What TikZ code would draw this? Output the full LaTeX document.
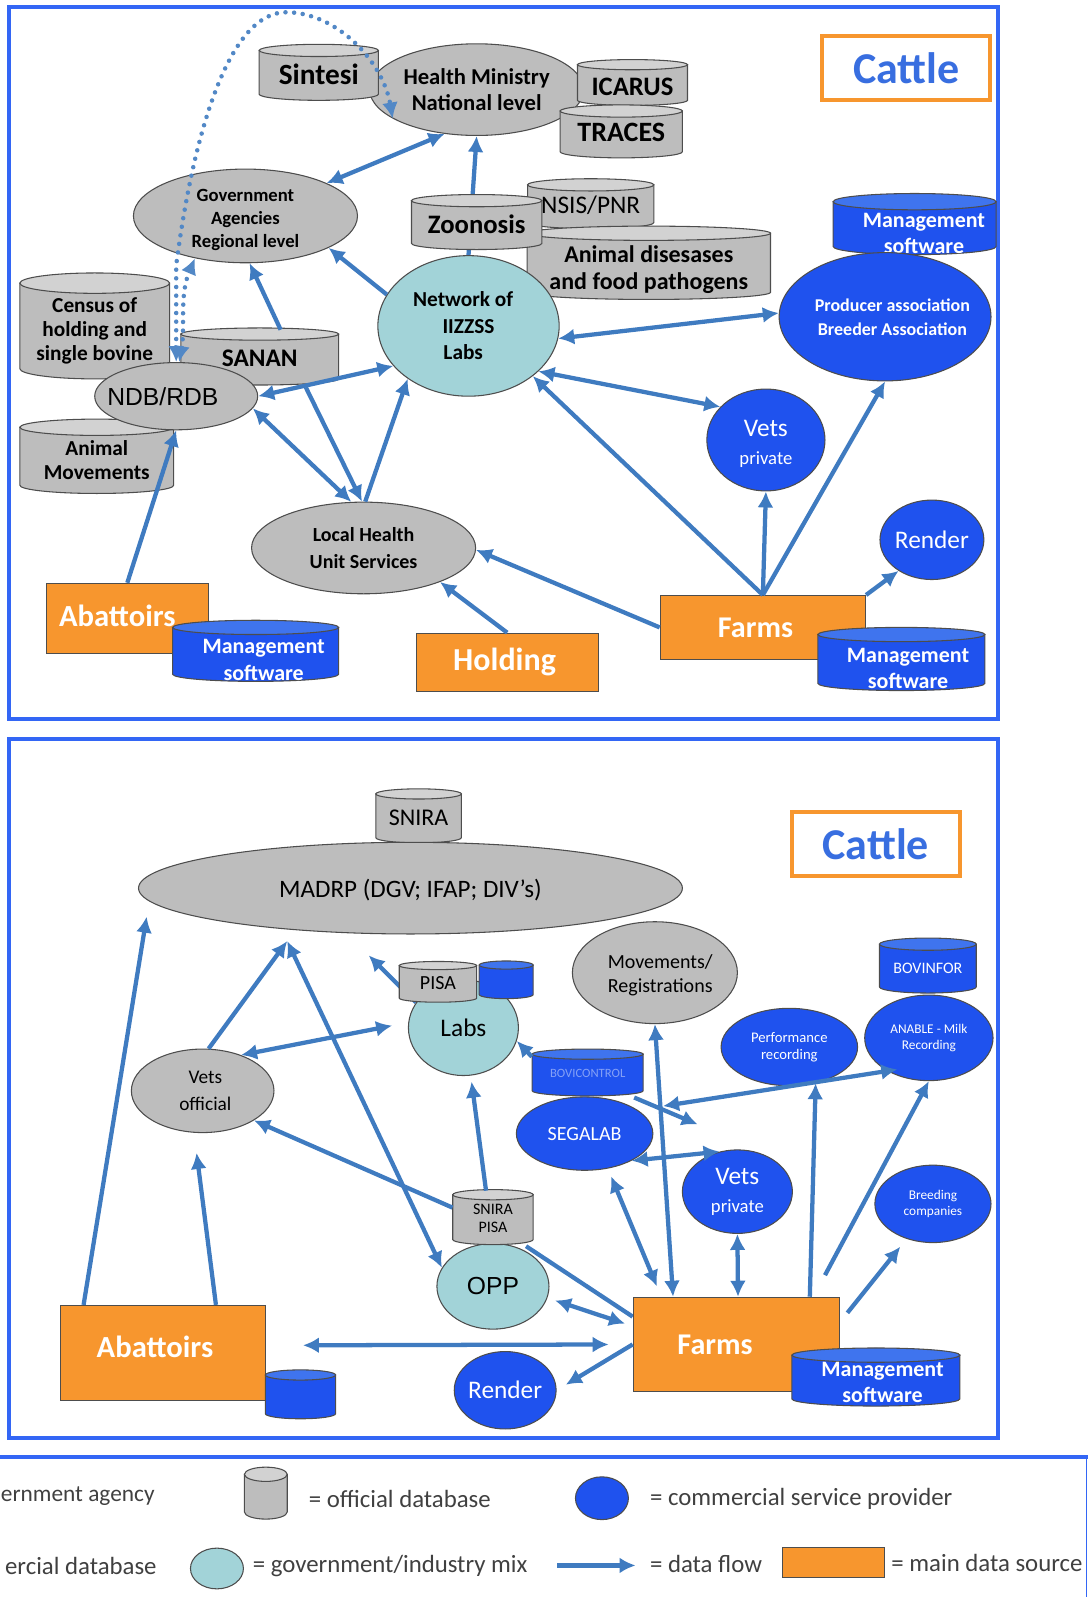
\documentclass[tikz,border=0pt]{standalone}
\usepackage{fontspec}
\setmainfont{Carlito}
\newfontfamily\arialfont{Liberation Sans}
\usetikzlibrary{arrows.meta, shapes.geometric, backgrounds}

\definecolor{framec}{HTML}{3366F5}
\definecolor{flowc}{HTML}{3F7BC0}
\definecolor{edgec}{HTML}{4D4D4D}
\definecolor{govfill}{HTML}{BDBDBD}
\definecolor{govtop}{HTML}{D2D2D2}
\definecolor{comfill}{HTML}{1F52EE}
\definecolor{comtop}{HTML}{3F74EE}
\definecolor{mixfill}{HTML}{A2D3D8}
\definecolor{srcfill}{HTML}{F7962E}

\newcommand{\dn}[1]{\rule{0pt}{#1}}
% kind, node options, name, x, y, width, height, end radius, text
\newcommand{\dbase}[9]{%
	\pgfmathsetmacro{\dbl}{#4-#6/2}\pgfmathsetmacro{\dbr}{#4+#6/2}%
	\pgfmathsetmacro{\dbt}{#5-#7/2+#8}\pgfmathsetmacro{\dbb}{#5+#7/2-#8}%
	\filldraw [fill=#1fill, dbline] (\dbl,\dbt) -- (\dbl,\dbb)
		arc [start angle=180, end angle=360, x radius=#6*.382pt, y radius=#8*.764pt]
		-- (\dbr,\dbt) -- cycle;
	\filldraw [fill=#1top, dbline] (#4,\dbt) ellipse [x radius=#6*.382pt, y radius=#8*.764pt];
	\node [dbtext={#6}{#7}, #2] (#3) at (#4,#5) {#9};
}

\tikzset{
	oval/.style 2 args={ellipse, draw=edgec, line width=.8pt, inner sep=-16pt, align=center,
		minimum width=#1*1.528pt, minimum height=#2*1.528pt},
	dbline/.style={draw=edgec, line width=.8pt},
	dbtext/.style 2 args={rectangle, inner sep=0pt, align=center,
		minimum width=#1*.764pt, minimum height=#2*.764pt},
	box/.style 2 args={rectangle, draw=edgec, line width=.5pt, fill=srcfill, text=white, inner sep=0pt,
		minimum width=#1*.764pt, minimum height=#2*.764pt},
	gov/.style={fill=govfill},
	com/.style={fill=comfill, text=white},
	mix/.style={fill=mixfill},
	fs/.style 2 args={font=\fontsize{#1}{#2}\selectfont},
	fb/.style 2 args={font=\fontsize{#1}{#2}\selectfont\bfseries},
	title/.style={rectangle, draw=srcfill, line width=3pt, fill=white, text=flowc!40!framec, inner sep=0pt,
		font=\fontsize{33}{38}\selectfont\bfseries, minimum width=126pt, minimum height=48pt},
	frame/.style={draw=framec, line width=3pt},
	flow/.style={line width=3.2pt, every edge/.style={draw=flowc}},
	dots/.style={draw=flowc!90!white, line width=3.4pt, line cap=round, dash pattern=on 0pt off 6.5pt},
	lgd/.style={anchor=west, inner sep=0pt, text=black!75, font=\fontsize{18.6}{22}\selectfont},
}

\begin{document}
\begin{tikzpicture}[x=.764pt, y=-.764pt, >={Latex[length=12pt,width=12pt]}]
	\useasboundingbox (0,0) rectangle (1069,1568);
	\draw [frame] (9,7) rectangle (980,706);
	\draw [frame] (9,726) rectangle (980,1412);

	% upper panel
	\node [title] (cattle_a) at (890,67) {Cattle};
	\node [oval={105}{45}, gov, fb={17}{20}] (health) at (468,88) {Health Ministry\\National level};
	\dbase{gov}{fb={22}{26}, yshift=-1.5pt}{sintesi}{313}{71}{117}{55}{6}{Sintesi}
	\dbase{gov}{fb={20}{24}, yshift=-3pt}{icarus}{621}{81}{108}{45}{5}{ICARUS}
	\dbase{gov}{fb={21}{25}, yshift=-1pt}{traces}{610}{129}{120}{52}{6}{TRACES}
	\node [oval={110}{46}, gov, fb={14}{17.5}] (agencies) at (241,212) {\dn{15pt}Government\\Agencies\\Regional level};
	\dbase{gov}{fs={19}{23}, yshift=-1.5pt}{nsis}{580}{200}{124}{49}{6}{NSIS/PNR}
	\dbase{gov}{fb={18}{20}, yshift=-5pt}{diseases}{637}{258}{239}{72}{7}{Animal disesases\\and food pathogens}
	\dbase{gov}{fb={20}{24}, yshift=-2pt}{zoonosis}{468}{218}{128}{54}{6}{Zoonosis}
	\node [oval={89}{69}, mix, fb={16}{20}] (network) at (460,320) {Network of\hspace*{8pt}\\IIZZSS\hspace*{8pt}\\Labs\hspace*{8pt}};
	\dbase{com}{com, fill=none, fb={16.5}{20}, xshift=7pt, yshift=-7pt}{soft_a}{898}{220}{160}{60}{8}{Management\\software}
	\node [oval={104}{63}, com, fb={13.5}{18}] (producer) at (869,311) {\hspace*{11pt}Producer association\\\hspace*{11pt}Breeder Association};
	\dbase{gov}{fb={16}{18}, yshift=-4pt}{census}{93}{320}{147}{104}{10}{Census of\\holding and\\single bovine}
	\dbase{gov}{fb={19}{23}, yshift=-1.5pt}{sanan}{255}{350}{155}{56}{6}{SANAN}
	\dbase{gov}{fb={16}{18}, yshift=-3pt}{moves}{95}{448}{151}{73}{8}{Animal\\Movements}
	\node [oval={80}{33}, gov, fs={18.5}{22}] (ndb) at (173,389) {\arialfont NDB/RDB\hspace*{20pt}};
	\node [oval={58}{50}, com, fs={19}{20}] (vets_a) at (752,432) {\dn{18pt}Vets\\[1pt]{\fontsize{14}{16}\selectfont private}};
	\node [oval={51}{39}, com, fs={19}{23}] (render_a) at (915,530) {Render};
	\node [oval={110}{45}, gov, fb={15}{20}] (local) at (357,538) {Local Health\\Unit Services};
	\node [box={159}{69}, fb={23}{27}] (abat_a) at (125,607) {\raisebox{3pt}{Abattoirs}\hspace*{15pt}};
	\dbase{com}{com, fill=none, fb={16.5}{20}, xshift=6pt, yshift=-7pt}{soft_b}{251}{639}{163}{60}{7}{Management\\software}
	\node [box={178}{57}, fb={24}{28}] (holding) at (498,650) {\raisebox{-4.5pt}{Holding}\hspace*{4pt}};
	\node [box={202}{63}, fb={22.6}{26}] (farms_a) at (749,616) {\raisebox{-3pt}{Farms}\hspace*{11pt}};
	\dbase{com}{com, fill=none, fb={16.5}{20}, xshift=5pt, yshift=-7pt}{soft_c}{885}{647}{164}{62}{7}{Management\\software}

	\begin{scope}[on background layer]
		\path [flow, ->] (network.90) edge (health.270);
	\end{scope}
	\path [flow, <->] (agencies.22) edge (health.234)
		(ndb.0) edge (network.208)
		(ndb.-9) edge (local.105)
		(network.-33) edge (vets_a.144)
		(network.-8) edge (producer.178);
	\path [flow, ->] (network.159) edge (agencies.-21)
		(sanan.54) edge (agencies.-85)
		(sanan.-32) edge (local.92)
		(local.88) edge (network.221)
		(abat_a.north) edge (ndb.south)
		(holding.north) edge (local.-24)
		(farms_a.west) edge (local.-1)
		(farms_a.north) edge (network.-38)
		(farms_a.north) edge (vets_a.south)
		(farms_a.north) edge (producer.270)
		(farms_a.north east) edge (render_a.223);
	\draw [dots, <->] (ndb.90) -- ++(0,-95) .. controls (190,130) and (225,12) .. (281,12)
		.. controls (330,12) and (376,60) .. (health.199);
	\draw [dots, <->] (ndb.85) .. controls (182,320) and (176,290) .. (agencies.220);

	% lower panel
	\coordinate (mad_l) at (144,900);
	\coordinate (mad_m) at (282,924);
	\coordinate (mad_r) at (362,938);
	\coordinate (off_b) at (193,1132);
	\coordinate (lab_l) at (385,1007);
	\coordinate (lab_b) at (463,1062);
	\coordinate (seg_b) at (600,1155);
	\coordinate (far_s) at (645,1263);
	\coordinate (bov_c) at (685,1104);
	\coordinate (cr_a) at (651,1086);
	\coordinate (cr_b) at (881,1050);
	\coordinate (far_a) at (810,1252);
	\coordinate (far_b) at (832,1289);
	\coordinate (bre_b) at (884,1224);

	\node [title] (cattle_b) at (860,829) {Cattle};
	\dbase{gov}{fs={18}{22}, yshift=-1.5pt}{snira}{411}{801}{84}{53}{5}{SNIRA}
	\node [oval={267}{45}, gov, fs={18.8}{22}] (madrp) at (403,872) {\dn{16pt}MADRP (DGV; IFAP; DIV's)};
	\node [oval={54}{47}, mix, fs={19}{23}] (labs) at (455,1009) {Labs};
	\dbase{gov}{fs={15}{18}, yshift=-1pt}{pisa}{430}{964}{76}{40}{4}{PISA}
	\dbase{com}{}{blank_a}{497}{962}{53}{37}{4}{}
	\node [oval={81}{50}, gov, fs={15}{18}] (movem) at (643,955) {\dn{15pt}\hspace*{8pt}Movements/\\\hspace*{8pt}Registrations};
	\dbase{com}{com, fill=none, fs={12}{14}, yshift=-2pt}{bovinfor}{911}{948}{95}{54}{6}{BOVINFOR}
	\node [oval={63}{42}, com, fs={10}{12.5}] (anable) at (912,1019) {ANABLE - Milk\\Recording};
	\node [oval={67}{38}, com, fs={11}{12.5}] (perf) at (775,1028) {Performance\\recording};
	\node [oval={67}{36}, com, fs={15}{18}] (segalab) at (574,1113) {SEGALAB};
	\dbase{com}{com, fill=none, fs={9.5}{12}, yshift=-1pt}{bovicon}{577}{1053}{109}{46}{5}{\textcolor{white!45!comfill}{BOVICONTROL}}
	\node [oval={54}{41}, com, fs={19}{20}] (vets_b) at (724,1170) {Vets\\[1pt]{\fontsize{14}{16}\selectfont private}};
	\node [oval={57}{38}, com, fs={10}{12.5}] (breed) at (916,1182) {Breeding\\companies};
	\node [oval={70}{41}, gov, fs={14.5}{20}] (vets_o) at (199,1071) {\hspace*{4pt}Vets\\\hspace*{4pt}official};
	\node [oval={55}{42}, mix, fs={18.5}{22}] (opp) at (484,1263) {\arialfont OPP};
	\dbase{gov}{fs={12}{13}, yshift=-1pt}{snipi}{484}{1195}{79}{54}{5}{SNIRA\\PISA};
	\node [box={201}{93}, fb={23}{27}] (abat_b) at (160,1328) {\raisebox{9pt}{Abattoirs}\hspace*{12pt}};
	\dbase{com}{}{blank_b}{295}{1369}{69}{48}{5}{}
	\node [oval={50}{38}, com, fs={19}{23}] (render_b) at (496,1365) {Render};
	\node [box={203}{93}, fb={22.6}{26}] (farms_b) at (723,1320) {\raisebox{-3pt}{Farms}\hspace*{32pt}};
	\dbase{com}{com, fill=none, fb={16.5}{20}, xshift=5pt, yshift=-4pt}{soft_d}{860}{1352}{165}{57}{7}{Management\\software}

	\begin{scope}[on background layer]
		\path [flow, ->] (labs.152) edge (mad_r);
		\path [flow] (farms_b.165) edge (snipi.-40);
	\end{scope}
	\path [flow, ->] (abat_b.149.5) edge (mad_l)
		(abat_b.42) edge (off_b)
		(vets_o.82) edge (mad_m)
		(snipi.104) edge (lab_b)
		(snipi.165) edge (vets_o.-30)
		(bovicon.163) edge (labs.-14)
		(bovicon.-27) edge (bov_c)
		(farms_b.33) edge (perf.-54)
		(far_a) edge (anable.south)
		(far_b) edge (bre_b);
	\path [flow, <->] (vets_o.43) edge (lab_l)
		(mad_m) edge (opp.160)
		(seg_b) edge (far_s)
		(movem.south) edge (farms_b.143)
		(vets_b.south) edge (farms_b.88)
		(segalab.-30) edge (vets_b.114)
		(cr_a) edge (cr_b);
	\path [flow, <->, shorten <=6pt, shorten >=6pt] (opp.-12) edge (farms_b.170);
	\path [flow, <->, shorten <=28pt, shorten >=18pt] (abat_b.4.5) edge (farms_b.west);
	\path [flow, ->, shorten >=8pt] (farms_b.west) edge (render_b.east);

	% legend
	\draw [frame] (-5,1431) -- (1068,1431);
	\draw [draw=framec, line width=1pt] (1067,1431) -- (1067,1572);
	\node [lgd, anchor=east, font=\fontsize{17.5}{21}\selectfont] (lg_a) at (152,1469) {ernment agency};
	\dbase{gov}{}{lg_db}{261}{1466}{42}{51}{7}{}
	\node [lgd] (lg_b) at (303,1472) {= official database};
	\node [oval={26}{21}, com] (lg_com) at (591,1471) {};
	\node [lgd] (lg_c) at (638,1472) {= commercial service provider};
	\node [lgd, anchor=east] (lg_d) at (154,1538) {ercial database};
	\node [oval={26}{20}, mix] (lg_mix) at (213,1540) {};
	\node [lgd] (lg_e) at (248,1538) {= government/industry mix};
	\coordinate (lg_f) at (547,1537);
	\coordinate (lg_g) at (624,1537);
	\path [flow, ->, line width=4pt] (lg_f) edge (lg_g);
	\node [lgd] (lg_h) at (638,1536) {= data flow};
	\node [box={100}{29}] (lg_src) at (818,1534) {};
	\node [lgd] (lg_i) at (875,1535) {= main data source};
\end{tikzpicture}
\end{document}
